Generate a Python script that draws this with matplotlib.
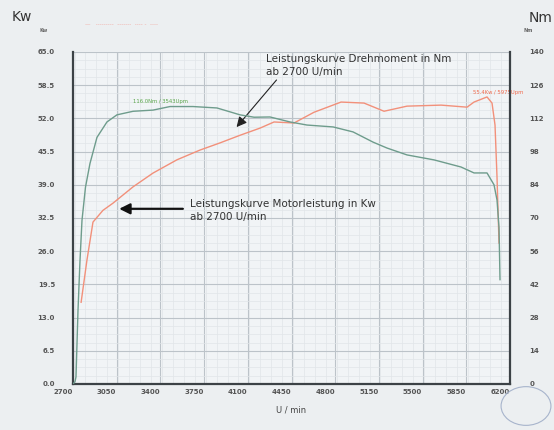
import numpy as np
import matplotlib
matplotlib.use("Agg")
import matplotlib.pyplot as plt
from matplotlib.ticker import MultipleLocator
from matplotlib.transforms import ScaledTranslation
from matplotlib.patches import Circle

# rpm axis
rpm_ticks = [2700, 3050, 3400, 3750, 4100, 4450, 4800, 5150, 5500, 5850, 6200]
kw_ticks = [0.0, 6.5, 13.0, 19.5, 26.0, 32.5, 39.0, 45.5, 52.0, 58.5, 65.0]
nm_ticks = [0, 14, 28, 42, 56, 70, 84, 98, 112, 126, 140]

# Drehmoment (Nm, rechte Achse) - green
torque_rpm = [2700, 2716, 2724, 2740, 2756, 2772, 2800, 2836, 2892, 2972, 3052, 3181,
              3341, 3477, 3661, 3853, 4038, 4150, 4278, 4438, 4574, 4783, 4943, 5103,
              5215, 5375, 5592, 5808, 5912, 6016, 6072, 6096, 6112, 6120]
torque_nm = [0, 1, 3, 31, 52, 69, 83, 93, 104, 110.5, 113.5, 115, 115.5, 117, 117,
             116.4, 113.5, 112.5, 112.6, 110.5, 109.2, 108.4, 106.3, 102, 99.5, 96.6,
             94.5, 91.5, 89, 89, 84, 77.6, 66, 44]

# Motorleistung (Kw, linke Achse) - red
power_rpm = [2765, 2812, 2860, 2940, 3020, 3181, 3341, 3533, 3717, 3877, 4038, 4198,
             4310, 4470, 4630, 4847, 5031, 5191, 5375, 5648, 5856, 5912, 6016, 6056,
             6080, 6096, 6112]
power_kw = [16.0, 24.3, 31.7, 34.0, 35.4, 38.6, 41.3, 43.9, 45.8, 47.2, 48.7, 50.1,
            51.3, 51.1, 53.2, 55.2, 55.0, 53.4, 54.4, 54.6, 54.2, 55.2, 56.2, 55.0,
            50.7, 40.5, 27.6]

fig = plt.figure(figsize=(5.54, 4.30), dpi=100, facecolor="#eceff1")
ax = fig.add_axes([73 / 554, 46 / 430, 437 / 554, 332 / 430])
ax.set_facecolor("#f1f4f6")
ax2 = ax.twinx()

ax.set_xlim(2700, 6200)
ax.set_ylim(0, 65)
ax2.set_ylim(0, 140)

# grid
ax.xaxis.set_minor_locator(MultipleLocator(87.5))
ax.yaxis.set_minor_locator(MultipleLocator(1.625))
ax.grid(which="major", color="#bcc3c9", linewidth=0.8)
ax.grid(which="minor", color="#e1e5e8", linewidth=0.5)
ax.set_axisbelow(True)

ax.plot(power_rpm, power_kw, color="#f2907a", linewidth=1.0, zorder=3)
ax2.plot(torque_rpm, torque_nm, color="#6e9c8c", linewidth=1.0, zorder=3)

ax.set_xticks(rpm_ticks)
ax.set_xticklabels([str(t) for t in rpm_ticks])
ax.set_yticks(kw_ticks)
ax.set_yticklabels([f"{t:.1f}" for t in kw_ticks])
ax2.set_yticks(nm_ticks)
ax2.set_yticklabels([str(t) for t in nm_ticks])

for a in (ax, ax2):
    a.tick_params(which="both", length=0, labelsize=5, labelcolor="#555555")
    for lbl in a.get_xticklabels() + a.get_yticklabels():
        lbl.set_fontweight("bold")
    a.spines["top"].set_visible(False)
ax.tick_params(axis="y", pad=13)
ax2.tick_params(axis="y", pad=14)
shift = ScaledTranslation(-0.1, 0, fig.dpi_scale_trans)
for lbl in ax.get_xticklabels():
    lbl.set_transform(lbl.get_transform() + shift)

for s in ("left", "bottom", "right"):
    ax2.spines[s].set_color("#3c4246")
    ax2.spines[s].set_linewidth(1.6)
    ax.spines[s].set_visible(False)

ax.set_xlabel("U / min", fontsize=6, color="#444444", labelpad=8)

# axis unit captions
fig.text(12 / 554, 1 - 17 / 430, "Kw", fontsize=10, color="#333333", va="center")
fig.text(529 / 554, 1 - 18 / 430, "Nm", fontsize=10, color="#333333", va="center")
fig.text(40 / 554, 1 - 31 / 430, "Kw", fontsize=3.5, fontweight="bold", color="#666666", va="center")
fig.text(524 / 554, 1 - 31 / 430, "Nm", fontsize=3.5, fontweight="bold", color="#666666", va="center")
fig.text(85 / 554, 1 - 25 / 430, "\u2014   ---------  -------  ---- -  ----", fontsize=4,
         color="#f2a8a0", va="center")

# peak labels
ax.text(3180, 54.8, "116.0Nm / 3543Upm", fontsize=3.8, color="#5aa64a", va="bottom")
ax.text(5900, 56.5, "55.4Kw / 5975Upm", fontsize=3.8, color="#f0684a", va="bottom")

# annotations
ax.annotate("Leistungskurve Drehmoment in Nm\nab 2700 U/min",
            xy=(4010, 50.3), xytext=(4245, 62.3),
            fontsize=7.5, color="#333333", va="center", ha="left", linespacing=1.35,
            arrowprops=dict(arrowstyle="-|>", color="#222222", lw=0.8,
                            mutation_scale=15, shrinkA=0, shrinkB=0,
                            relpos=(0.07, 0.0)))
ax.annotate("Leistungskurve Motorleistung in Kw\nab 2700 U/min",
            xy=(3070, 34.3), xytext=(3640, 34.0),
            fontsize=7.5, color="#333333", va="center", ha="left", linespacing=1.35)
ax.annotate("", xy=(3070, 34.3), xytext=(3580, 34.3),
            arrowprops=dict(arrowstyle="-|>", color="#111111", lw=1.6,
                            mutation_scale=16, shrinkA=0, shrinkB=0))

# stamp
stamp = Circle((526 / 554, 1 - 406 / 430), 0.045, transform=fig.transFigure,
               facecolor="none", edgecolor="#a7b4cc", linewidth=0.8)
fig.add_artist(stamp)

fig.savefig("out.png", dpi=100, facecolor=fig.get_facecolor())
